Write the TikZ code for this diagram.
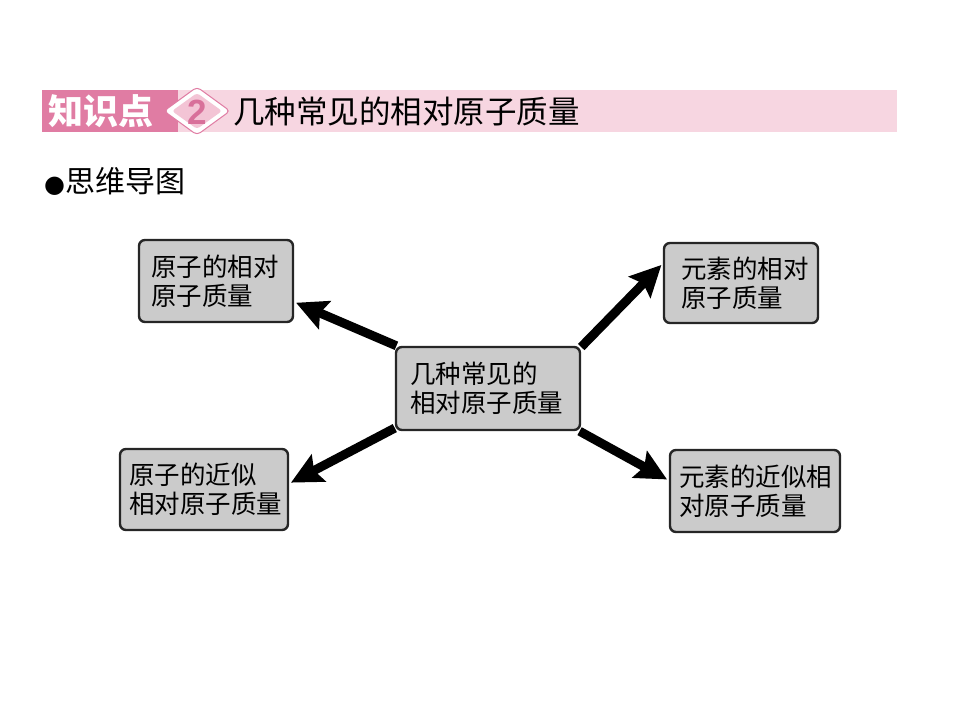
\documentclass[tikz,border=0pt]{standalone}
\usepackage{fontspec}
\setmainfont{Liberation Sans}
\newfontfamily\cjk{Noto Sans CJK SC}
\newfontfamily\dejavu{DejaVu Sans}
\usetikzlibrary{arrows.meta,calc,shapes.geometric}
\definecolor{pinklight}{HTML}{F7D6E1}
\definecolor{pinkdark}{HTML}{E07CA3}
\definecolor{pinkmid}{HTML}{D8709A}
\definecolor{boxgray}{HTML}{CBCBCB}
\begin{document}
\begin{tikzpicture}[x=1pt,y=-1pt,
  mapbox/.style={draw=black!85,fill=boxgray,line width=2.4pt,rounded corners=6pt},
  lbl/.style={font=\cjk\fontsize{25.5}{29}\selectfont,align=left,anchor=west,inner sep=0pt,text=black},
  arr/.style={line width=9pt,-{Stealth[length=31pt,width=30pt,inset=5pt]},shorten >=2pt}]
\useasboundingbox (0,0) rectangle (960,720);
% header band
\fill[pinklight] (42,90) rectangle (897,132);
\fill[pinkdark] (42,90) rectangle (178,132);
\node[font=\cjk\bfseries\fontsize{35}{35}\selectfont,text=white,anchor=west,inner sep=0pt] (kp) at (48,111) {知识点};
\filldraw[draw=pinkdark,line width=1pt,fill=white,rounded corners=4pt] (164,111) -- (197,87) -- (230,111) -- (197,135) -- cycle;
\fill[pinklight!80!pinkdark,rounded corners=3pt] (172,111) -- (197,93) -- (222,111) -- (197,129) -- cycle;
\node[font=\bfseries\fontsize{35}{35}\selectfont,text=pinkmid,inner sep=0pt] (two) at (197,112) {2};
\node[font=\cjk\fontsize{31.5}{31.5}\selectfont,anchor=west,inner sep=0pt] (title) at (233,111) {几种常见的相对原子质量};
% subtitle
\node[font=\cjk\fontsize{30}{30}\selectfont,anchor=west,inner sep=0pt] (sub) at (44,181) {{\dejavu\fontsize{24}{24}\selectfont ●}思维导图};
% boxes
\node[mapbox,minimum width=154pt,minimum height=82pt] (tl) at (216,281) {};
\node[mapbox,minimum width=154pt,minimum height=80pt] (tr) at (741,283) {};
\node[mapbox,minimum width=184pt,minimum height=83pt] (c) at (488,388.5) {};
\node[mapbox,minimum width=168pt,minimum height=81pt] (bl) at (204,489.5) {};
\node[mapbox,minimum width=170pt,minimum height=82pt] (br) at (755,491) {};
% labels
\node[lbl] (tlt) at ($(tl.west)+(13,0)$) {原子的相对\\原子质量};
\node[lbl] (trt) at ($(tr.west)+(18,0)$) {元素的相对\\原子质量};
\node[lbl] (ct) at ($(c.west)+(15,0)$) {几种常见的\\相对原子质量};
\node[lbl] (blt) at ($(bl.west)+(10,0)$) {原子的近似\\相对原子质量};
\node[lbl] (brt) at ($(br.west)+(10,0)$) {元素的近似相\\对原子质量};
% arrows
\draw[arr] (c.155) -- (tl.-15.6);
\draw[arr] (c.24) -- (tr.166);
\draw[arr] (c.-157) -- (bl.4);
\draw[arr] (c.-25) -- (br.173);
\end{tikzpicture}
\end{document}
